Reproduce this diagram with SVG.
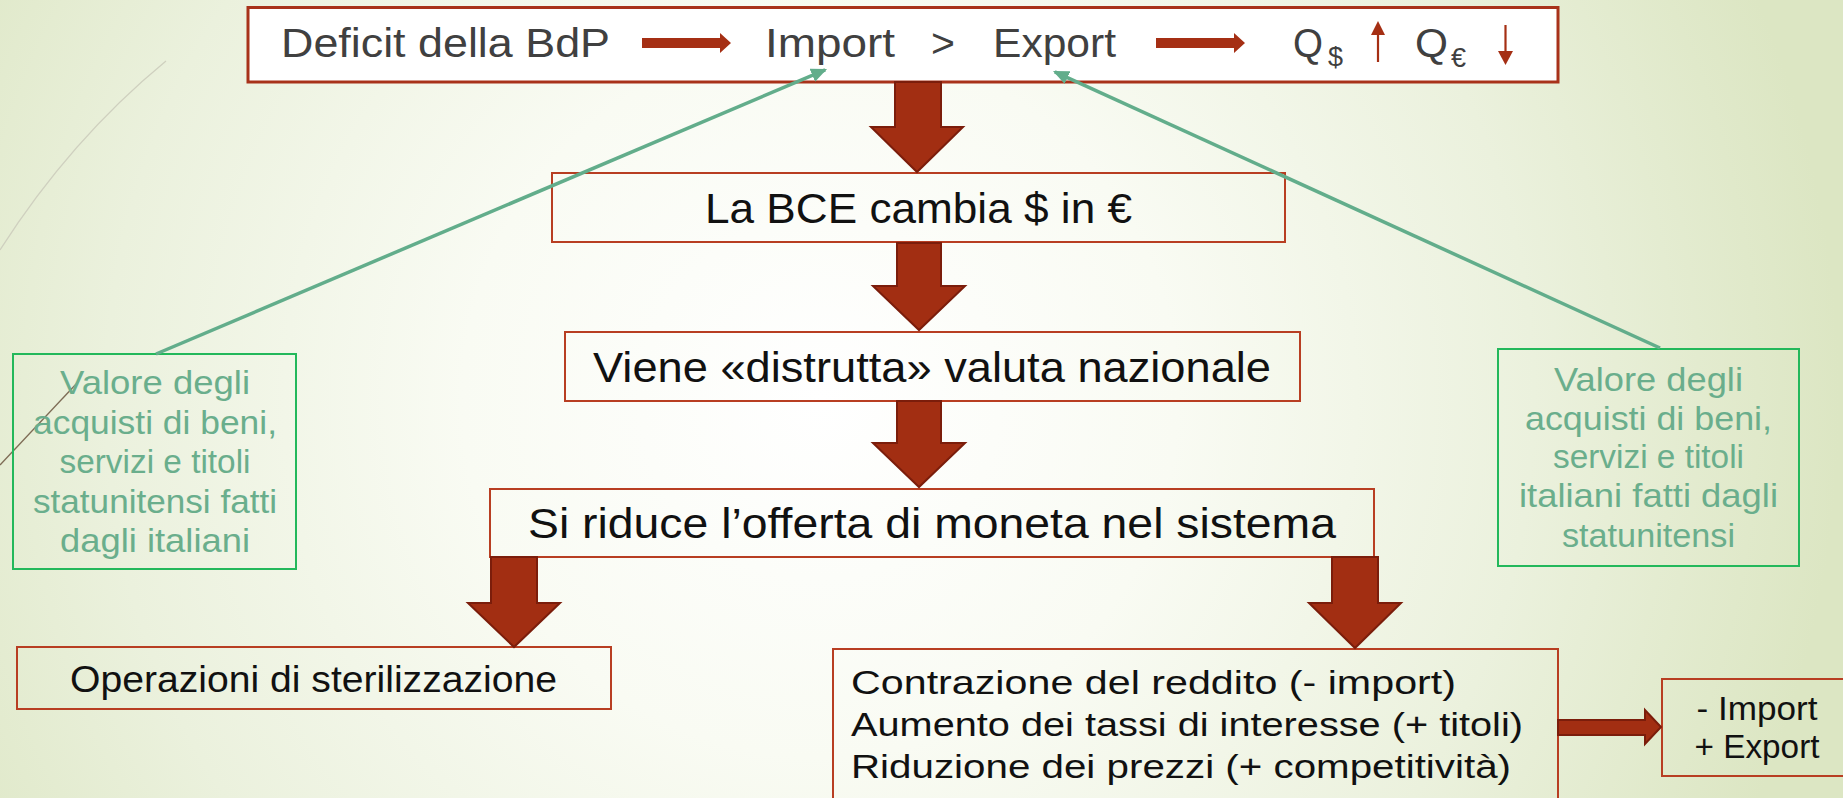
<svg xmlns="http://www.w3.org/2000/svg" width="1843" height="798" viewBox="0 0 1843 798">
<defs>
<radialGradient id="bg" gradientUnits="userSpaceOnUse" cx="820" cy="400" r="1020">
<stop offset="0" stop-color="#FFFFFF"/>
<stop offset="0.35" stop-color="#F9FBF3"/>
<stop offset="0.7" stop-color="#EBF1DD"/>
<stop offset="1" stop-color="#DCE6C3"/>
</radialGradient>
<marker id="gh" markerUnits="userSpaceOnUse" markerWidth="18" markerHeight="14" refX="14" refY="7" orient="auto">
<path d="M0,0 L16,7 L0,14 z" fill="#62AD8B"/>
</marker>
<style>
.box{fill:none;stroke:#B83E22;stroke-width:2}
.top{fill:#FFFFFF;stroke:#A8321A;stroke-width:3}
.gbox{fill:none;stroke:#23B85B;stroke-width:2}
.t{font-family:"Liberation Sans",Arial,sans-serif;fill:#111111}
.tg{font-family:"Liberation Sans",Arial,sans-serif;fill:#404040;font-size:41px}
.g{font-family:"Liberation Sans",Arial,sans-serif;fill:#6AAE8C;font-size:33px;text-anchor:middle}
.big{fill:#A22E12;stroke:#7B1D0B;stroke-width:2;stroke-linejoin:miter}
.ha{fill:#A52F14}
.conn{stroke:#62AD8B;stroke-width:3.5;fill:none}
</style>
</defs>
<rect x="0" y="0" width="1843" height="798" fill="url(#bg)"/>
<g id="decor">
<path d="M0,250 Q70,140 166,61" fill="none" stroke="#CFD0BF" stroke-width="1.3"/>
<path d="M0,465 L78,382" fill="none" stroke="#7D6B55" stroke-width="1.3"/>
</g>

<g id="node-top">
<rect class="top" x="248" y="7.5" width="1310" height="74.5"/>
<text class="tg" x="281" y="57" textLength="329" lengthAdjust="spacingAndGlyphs">Deficit della BdP</text>
<path class="ha" d="M642,38 L720,38 L720,33 L731,43 L720,53 L720,48 L642,48 Z"/>
<text class="tg" x="765" y="57" textLength="130" lengthAdjust="spacingAndGlyphs">Import</text>
<text class="tg" x="943" y="57" text-anchor="middle">&gt;</text>
<text class="tg" x="993" y="57" textLength="123" lengthAdjust="spacingAndGlyphs">Export</text>
<path class="ha" d="M1156,38 L1234,38 L1234,33 L1245,43 L1234,53 L1234,48 L1156,48 Z"/>
<text class="tg" x="1293" y="57" textLength="30" lengthAdjust="spacingAndGlyphs">Q</text>
<text class="tg" x="1328" y="66" style="font-size:27px">$</text>
<line x1="1378" y1="62" x2="1378" y2="34" stroke="#A52F14" stroke-width="2.2"/>
<path class="ha" d="M1371,35 L1385,35 L1378,21 Z"/>
<text class="tg" x="1415" y="57" textLength="33" lengthAdjust="spacingAndGlyphs">Q</text>
<text class="tg" x="1451" y="67" style="font-size:27px">€</text>
<line x1="1505.5" y1="25" x2="1505.5" y2="52" stroke="#A52F14" stroke-width="2.2"/>
<path class="ha" d="M1498,51 L1513,51 L1505.5,65 Z"/>
</g>

<g id="node-bce">
<rect class="box" x="552" y="173" width="733" height="69"/>
<text class="t" x="918.5" y="223" text-anchor="middle" style="font-size:42px" textLength="427" lengthAdjust="spacingAndGlyphs">La BCE cambia $ in €</text>
</g>

<g id="node-viene">
<rect class="box" x="565" y="332" width="735" height="69"/>
<text class="t" x="932" y="382" text-anchor="middle" style="font-size:42px" textLength="678" lengthAdjust="spacingAndGlyphs">Viene «distrutta» valuta nazionale</text>
</g>

<g id="node-riduce">
<rect class="box" x="490" y="489" width="884" height="68"/>
<text class="t" x="932" y="538" text-anchor="middle" style="font-size:42px" textLength="808" lengthAdjust="spacingAndGlyphs">Si riduce l’offerta di moneta nel sistema</text>
</g>

<g id="node-sterilizzazione">
<rect class="box" x="17" y="647" width="594" height="62"/>
<text class="t" x="313.5" y="692" text-anchor="middle" style="font-size:37px" textLength="487" lengthAdjust="spacingAndGlyphs">Operazioni di sterilizzazione</text>
</g>

<g id="node-effetti">
<rect class="box" x="833" y="649" width="725" height="170"/>
<text class="t" x="851" y="694" style="font-size:33px" textLength="605" lengthAdjust="spacingAndGlyphs">Contrazione del reddito (- import)</text>
<text class="t" x="851" y="736" style="font-size:33px" textLength="672" lengthAdjust="spacingAndGlyphs">Aumento dei tassi di interesse (+ titoli)</text>
<text class="t" x="851" y="778" style="font-size:33px" textLength="660" lengthAdjust="spacingAndGlyphs">Riduzione dei prezzi (+ competitività)</text>
</g>

<g id="node-risultato">
<rect class="box" x="1662" y="679" width="200" height="97"/>
<text class="t" x="1757" y="720" text-anchor="middle" style="font-size:34px" textLength="121" lengthAdjust="spacingAndGlyphs">- Import</text>
<text class="t" x="1757" y="758" text-anchor="middle" style="font-size:34px" textLength="125" lengthAdjust="spacingAndGlyphs">+ Export</text>
</g>

<g id="node-valore-it">
<rect class="gbox" x="13" y="354" width="283" height="215"/>
<text class="g" x="155" y="394" textLength="190" lengthAdjust="spacingAndGlyphs">Valore degli</text>
<text class="g" x="155" y="433.5" textLength="244" lengthAdjust="spacingAndGlyphs">acquisti di beni,</text>
<text class="g" x="155" y="473" textLength="191" lengthAdjust="spacingAndGlyphs">servizi e titoli</text>
<text class="g" x="155" y="513" textLength="244" lengthAdjust="spacingAndGlyphs">statunitensi fatti</text>
<text class="g" x="155" y="552" textLength="190" lengthAdjust="spacingAndGlyphs">dagli italiani</text>
</g>

<g id="node-valore-us">
<rect class="gbox" x="1498" y="349" width="301" height="217"/>
<text class="g" x="1648.5" y="391" textLength="189" lengthAdjust="spacingAndGlyphs">Valore degli</text>
<text class="g" x="1648.5" y="430" textLength="247" lengthAdjust="spacingAndGlyphs">acquisti di beni,</text>
<text class="g" x="1648.5" y="468" textLength="191" lengthAdjust="spacingAndGlyphs">servizi e titoli</text>
<text class="g" x="1648.5" y="507" textLength="259" lengthAdjust="spacingAndGlyphs">italiani fatti dagli</text>
<text class="g" x="1648.5" y="547" textLength="173" lengthAdjust="spacingAndGlyphs">statunitensi</text>
</g>

<g id="connectors">
<path class="big" d="M895,82 L941,82 L941,127 L963,127 L917,172 L871,127 L895,127 Z"/>
<path class="big" d="M897,243 L941,243 L941,286 L965,286 L919,330 L873,286 L897,286 Z"/>
<path class="big" d="M897,401 L941,401 L941,443 L965,443 L919,487 L873,443 L897,443 Z"/>
<path class="big" d="M491,557 L537,557 L537,603 L560,603 L514,647 L468,603 L491,603 Z"/>
<path class="big" d="M1332,557 L1378,557 L1378,603 L1401,603 L1355,648 L1309,603 L1332,603 Z"/>
<path class="big" d="M1558,720 L1645,720 L1645,710 L1661,727 L1645,744 L1645,735 L1558,735 Z"/>
<path class="conn" d="M156,354 L825.2,69.8" marker-end="url(#gh)"/>
<path class="conn" d="M1660,348 L1054.8,71.8" marker-end="url(#gh)"/>
</g>
</svg>
